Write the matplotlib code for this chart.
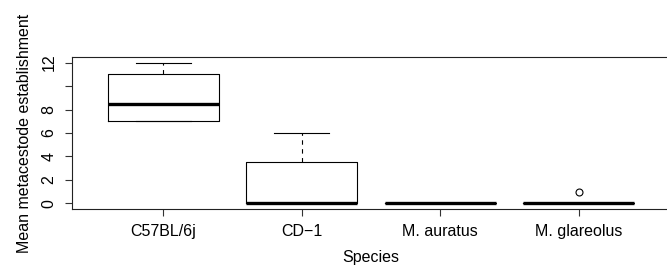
import matplotlib
matplotlib.use("Agg")
import matplotlib.pyplot as plt

species = ["C57BL/6j", "CD\u22121", "M. auratus", "M. glareolus"]
q1 = [7, 0, 0, 0]
med = [8.5, 0, 0, 0]
q3 = [11, 3.5, 0, 0]
whislo = [7, 0, 0, 0]
whishi = [12, 6, 0, 0]
fliers = [[], [], [], [1]]
yticks = [0, 2, 4, 6, 8, 10, 12]
yticklabels = ["0", "2", "4", "6", "8", "", "12"]

plt.rcParams['font.family'] = ['Liberation Sans', 'DejaVu Sans']

W, H = 667, 268
fig = plt.figure(figsize=(W / 100, H / 100), dpi=100)
left, right, top, bottom = 72, 670, 57, 209
ax = fig.add_axes([left / W, (H - bottom) / H, (right - left) / W, (bottom - top) / H])

stats = []
for i in range(len(species)):
    stats.append(dict(med=med[i], q1=q1[i], q3=q3[i], whislo=whislo[i],
                      whishi=whishi[i], fliers=fliers[i], label=species[i]))

ax.bxp(stats, positions=range(1, len(species) + 1), widths=0.8,
       showfliers=True,
       boxprops=dict(color='black', linewidth=0.8),
       medianprops=dict(color='black', linewidth=2.4, solid_capstyle='butt'),
       whiskerprops=dict(color='black', linewidth=0.8, linestyle=(0, (4, 4))),
       capprops=dict(color='black', linewidth=0.8),
       capwidths=0.4,
       flierprops=dict(marker='o', markersize=5, markerfacecolor='none',
                       markeredgecolor='black', markeredgewidth=0.8))

ax.set_xlim(0.34, 4.66)
ax.set_ylim(-0.48, 12.48)
ax.set_yticks(yticks)
ax.set_yticklabels(yticklabels, rotation=90, va='center')
ax.set_xticks(range(1, len(species) + 1))
ax.set_xticklabels(species)
ax.tick_params(axis='both', labelsize=11.5, length=5, width=0.8, color='#333333')
ax.tick_params(axis='y', pad=6)
ax.tick_params(axis='x', pad=6)
for s in ax.spines.values():
    s.set_linewidth(0.8)
    s.set_color('#222222')
ax.spines['right'].set_visible(False)

ax.set_xlabel("Species", fontsize=11.5, labelpad=8)
ax.set_ylabel("Mean metacestode establishment", fontsize=11.5, labelpad=7)

fig.savefig("out.png", dpi=100)
